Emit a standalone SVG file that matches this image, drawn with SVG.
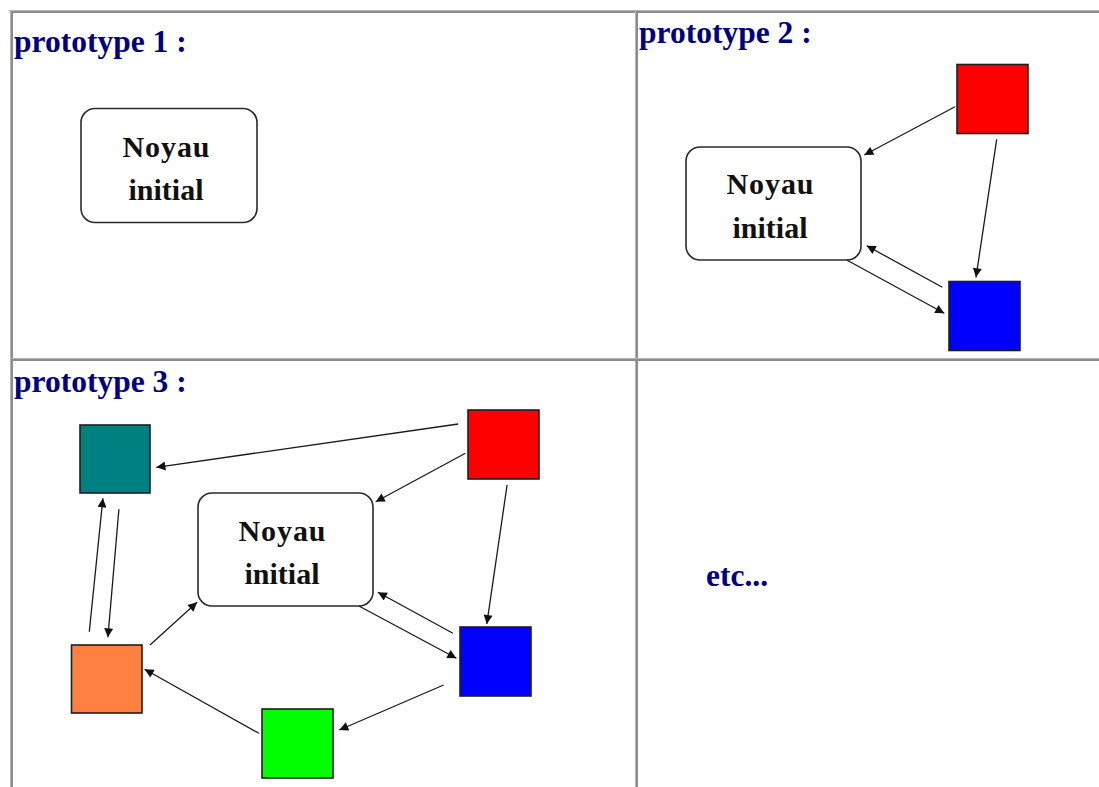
<svg xmlns="http://www.w3.org/2000/svg" width="1099" height="787" viewBox="0 0 1099 787">
  <defs>
    <style>
      .title { font-family: "Liberation Serif", "Times New Roman", serif; font-weight: bold; font-size: 31.5px; fill: #000080; }
      .ntxt { font-family: "Liberation Serif", "Times New Roman", serif; font-weight: bold; font-size: 30px; fill: #111111; text-anchor: middle; }
      .noyau { fill: #ffffff; stroke: #2a2a2a; stroke-width: 1.6; }
      .sq { stroke: #1e1e1e; stroke-width: 1.6; }
      .conn { stroke: #1a1a1a; stroke-width: 1.3; fill: none; marker-end: url(#arr); }
      .bl { stroke: #b4b4b4; stroke-width: 1; }
      .bd { stroke: #8c8c8c; stroke-width: 2; }
    </style>
    <marker id="arr" markerUnits="userSpaceOnUse" viewBox="0 0 10 10" refX="10" refY="5" markerWidth="10" markerHeight="9" orient="auto">
      <path d="M0,0 L10,5 L0,10 z" fill="#111111"/>
    </marker>
  </defs>
  <rect width="1099" height="787" fill="#ffffff"/>

  <g id="table-grid">
    <line class="bl" x1="9" y1="10.5" x2="1099" y2="10.5"/>
    <line class="bd" x1="11" y1="12" x2="1099" y2="12"/>
    <line class="bl" x1="10.5" y1="10" x2="10.5" y2="787"/>
    <line class="bd" x1="12" y1="11" x2="12" y2="787"/>
    <line class="bl" x1="635.5" y1="11" x2="635.5" y2="787"/>
    <line class="bd" x1="637" y1="11" x2="637" y2="787"/>
    <line class="bl" x1="11" y1="358.5" x2="1099" y2="358.5"/>
    <line class="bd" x1="11" y1="360" x2="1099" y2="360"/>
  </g>

  <g id="titles">
    <text class="title" x="14" y="52">prototype 1 :</text>
    <text class="title" x="639" y="43">prototype 2 :</text>
    <text class="title" x="14" y="392">prototype 3 :</text>
    <text class="title" x="706" y="586">etc...</text>
  </g>

  <!-- prototype 1 -->
  <g id="p1-noyau">
    <rect class="noyau" x="81" y="108.5" width="176" height="114" rx="14"/>
    <text class="ntxt" x="166" y="157" textLength="87">Noyau</text>
    <text class="ntxt" x="166" y="199.5">initial</text>
  </g>

  <!-- prototype 2 -->
  <g id="p2-noyau">
    <rect class="noyau" x="686" y="147" width="175" height="113" rx="14"/>
    <text class="ntxt" x="770" y="194" textLength="87">Noyau</text>
    <text class="ntxt" x="770" y="237.5">initial</text>
  </g>
  <g id="p2-red"><rect class="sq" x="957" y="64.5" width="71" height="69" fill="#ff0000"/></g>
  <g id="p2-blue"><rect class="sq" x="949" y="281.5" width="71" height="69" fill="#0000ff"/></g>

  <!-- prototype 3 -->
  <g id="p3-noyau">
    <rect class="noyau" x="198" y="493" width="175" height="113" rx="14"/>
    <text class="ntxt" x="282" y="541" textLength="87">Noyau</text>
    <text class="ntxt" x="282" y="583.5">initial</text>
  </g>
  <g id="p3-teal"><rect class="sq" x="80" y="425" width="70" height="68" fill="#008080"/></g>
  <g id="p3-red"><rect class="sq" x="468" y="410" width="71" height="69" fill="#ff0000"/></g>
  <g id="p3-blue"><rect class="sq" x="460" y="627" width="71" height="69" fill="#0000ff"/></g>
  <g id="p3-orange"><rect class="sq" x="71.5" y="645" width="70.5" height="68" fill="#ff8040"/></g>
  <g id="p3-green"><rect class="sq" x="262" y="709" width="71" height="69" fill="#00ff00"/></g>

  <g id="connectors">
    <!-- prototype 2 -->
    <line class="conn" x1="955" y1="106.7" x2="864.3" y2="155"/>
    <line class="conn" x1="996.7" y1="139.3" x2="976" y2="277.3"/>
    <line class="conn" x1="942.3" y1="287.3" x2="866.7" y2="245.7"/>
    <line class="conn" x1="846.7" y1="260" x2="944.3" y2="313.3"/>
    <!-- prototype 3 -->
    <line class="conn" x1="458.2" y1="424" x2="156.4" y2="467.3"/>
    <line class="conn" x1="465.4" y1="453.3" x2="375.7" y2="501.7"/>
    <line class="conn" x1="507.1" y1="485" x2="486.8" y2="624"/>
    <line class="conn" x1="452.9" y1="633.3" x2="377.9" y2="592.3"/>
    <line class="conn" x1="358.9" y1="606" x2="456.4" y2="658.3"/>
    <line class="conn" x1="443.6" y1="685" x2="339.3" y2="730"/>
    <line class="conn" x1="258.9" y1="733.3" x2="144.6" y2="669.3"/>
    <line class="conn" x1="150" y1="645" x2="197.1" y2="602.3"/>
    <line class="conn" x1="89.3" y1="631.7" x2="102.9" y2="498.3"/>
    <line class="conn" x1="118.9" y1="509.3" x2="107.9" y2="637.3"/>
  </g>
</svg>
